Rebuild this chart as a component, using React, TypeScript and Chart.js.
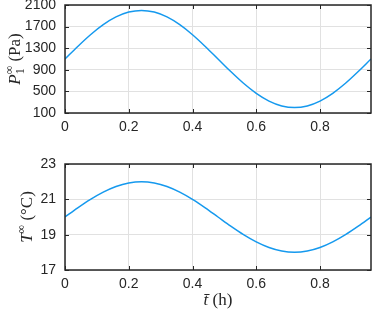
import React, { useEffect, useRef } from 'react';
import { Chart, registerables } from 'chart.js';

Chart.register(...registerables);

// ---- data ----
const timeH = [0, 0.04, 0.08, 0.12, 0.16, 0.2, 0.24, 0.28, 0.32, 0.36, 0.4, 0.44, 0.48, 0.52, 0.56, 0.6, 0.64, 0.68, 0.72, 0.76, 0.8, 0.84, 0.88, 0.92, 0.96];
const pressurePa = [1100, 1333, 1550, 1736, 1879, 1969, 2000, 1969, 1879, 1736, 1550, 1333, 1100, 867, 650, 464, 321, 231, 200, 231, 321, 464, 650, 867, 1100];
const temperatureC = [20, 20.52, 21, 21.41, 21.73, 21.93, 22, 21.93, 21.73, 21.41, 21, 20.52, 20, 19.48, 19, 18.59, 18.27, 18.07, 18, 18.07, 18.27, 18.59, 19, 19.48, 20];
const xTicks = [0, 0.2, 0.4, 0.6, 0.8];
const pressureTicks = [100, 500, 900, 1300, 1700, 2100];
const temperatureTicks = [17, 19, 21, 23];
const xMax = 0.96;

const LINE_COLOR = '#1599ee';
const TEXT_COLOR = '#262626';
const GRID_COLOR = '#e1e1e1';
const TICK_FONT = "'Liberation Sans', Arial, sans-serif";
const SERIF = "'Liberation Serif', 'DejaVu Serif', serif";

type Seg = { t: string; font: string; dy?: number; stack?: boolean };

function drawRich(ctx: CanvasRenderingContext2D, segs: Seg[], cx: number, cy: number, rotate: boolean) {
  ctx.save();
  ctx.translate(cx, cy);
  if (rotate) ctx.rotate(-Math.PI / 2);
  const layout: { s: Seg; x: number }[] = [];
  let x = 0;
  let prevStart = 0;
  let prevW = 0;
  segs.forEach((s) => {
    ctx.font = s.font;
    const w = ctx.measureText(s.t).width;
    if (s.stack) {
      layout.push({ s, x: prevStart });
      prevW = Math.max(prevW, w);
      x = prevStart + prevW;
    } else {
      layout.push({ s, x });
      prevStart = x;
      prevW = w;
      x += w;
    }
  });
  const total = x;
  ctx.fillStyle = TEXT_COLOR;
  ctx.textBaseline = 'alphabetic';
  ctx.textAlign = 'left';
  layout.forEach(({ s, x: sx }) => {
    ctx.font = s.font;
    ctx.fillText(s.t, sx - total / 2, s.dy || 0);
  });
  ctx.restore();
}

const framePlugin = {
  id: 'matlabFrame',
  afterDraw(chart: any) {
    const { ctx, chartArea: a, scales } = chart;
    const tl = 4;
    ctx.save();
    ctx.strokeStyle = TEXT_COLOR;
    ctx.lineWidth = 1;
    ctx.beginPath();
    scales.x.ticks.forEach((t: any) => {
      const px = Math.round(scales.x.getPixelForValue(t.value)) + 0.5;
      ctx.moveTo(px, a.bottom);
      ctx.lineTo(px, a.bottom - tl);
      ctx.moveTo(px, a.top);
      ctx.lineTo(px, a.top + tl);
    });
    scales.y.ticks.forEach((t: any) => {
      const py = Math.round(scales.y.getPixelForValue(t.value)) + 0.5;
      ctx.moveTo(a.left, py);
      ctx.lineTo(a.left + tl, py);
      ctx.moveTo(a.right, py);
      ctx.lineTo(a.right - tl, py);
    });
    ctx.stroke();
    ctx.lineWidth = 1.5;
    ctx.strokeRect(a.left, a.top, a.right - a.left, a.bottom - a.top);
    ctx.restore();
  },
};

function zeroPad(s: any) {
  s.paddingTop = 0;
  s.paddingBottom = 0;
  s.paddingLeft = 0;
  s.paddingRight = 0;
}

function makeConfig(
  values: number[],
  yMin: number,
  yMax: number,
  yTicks: number[],
  padTop: number,
  xAxisHeight: number,
  drawTitles: (ctx: CanvasRenderingContext2D, chart: any) => void
): any {
  return {
    type: 'line',
    data: {
      datasets: [
        {
          data: timeH.map((t, i) => ({ x: t, y: values[i] })),
          borderColor: LINE_COLOR,
          borderWidth: 1.5,
          pointRadius: 0,
          fill: false,
          cubicInterpolationMode: 'monotone',
        },
      ],
    },
    options: {
      animation: false,
      responsive: false,
      layout: { padding: { top: padTop, right: 3, left: 0, bottom: 0 } },
      plugins: { legend: { display: false }, tooltip: { enabled: false } },
      scales: {
        x: {
          type: 'linear',
          min: 0,
          max: xMax,
          afterBuildTicks: (s: any) => {
            s.ticks = xTicks.map((v) => ({ value: v }));
          },
          afterFit: (s: any) => {
            s.height = xAxisHeight;
            zeroPad(s);
          },
          grid: { color: GRID_COLOR, lineWidth: 1, drawTicks: false },
          border: { display: false },
          ticks: {
            autoSkip: false,
            padding: 6,
            color: TEXT_COLOR,
            font: { family: TICK_FONT, size: 14 },
            maxRotation: 0,
            callback: (v: any) => String(v),
          },
        },
        y: {
          type: 'linear',
          min: yMin,
          max: yMax,
          afterBuildTicks: (s: any) => {
            s.ticks = yTicks.map((v) => ({ value: v }));
          },
          afterFit: (s: any) => {
            s.width = 65;
            zeroPad(s);
          },
          grid: { color: GRID_COLOR, lineWidth: 1, drawTicks: false },
          border: { display: false },
          ticks: {
            autoSkip: false,
            padding: 9,
            color: TEXT_COLOR,
            font: { family: TICK_FONT, size: 14 },
            callback: (v: any) => String(v),
          },
        },
      },
    },
    plugins: [
      framePlugin,
      {
        id: 'richTitles',
        afterDraw(chart: any) {
          drawTitles(chart.ctx, chart);
        },
      },
    ],
  };
}

export default function App() {
  const topRef = useRef<HTMLCanvasElement>(null);
  const botRef = useRef<HTMLCanvasElement>(null);

  useEffect(() => {
    const big = `17px ${SERIF}`;
    const bigIt = `italic 17px ${SERIF}`;
    const small = `12px ${SERIF}`;
    const top = new Chart(
      topRef.current as HTMLCanvasElement,
      makeConfig(pressurePa, 100, 2100, pressureTicks, 5, 32, (ctx, chart) => {
        const a = chart.chartArea;
        drawRich(
          ctx,
          [
            { t: 'P', font: bigIt },
            { t: '\u221E', font: small, dy: -7 },
            { t: '1', font: small, dy: 4, stack: true },
            { t: ' (Pa)', font: big },
          ],
          20,
          (a.top + a.bottom) / 2,
          true
        );
      })
    );
    const bot = new Chart(
      botRef.current as HTMLCanvasElement,
      makeConfig(temperatureC, 17, 23, temperatureTicks, 19, 45, (ctx, chart) => {
        const a = chart.chartArea;
        drawRich(
          ctx,
          [
            { t: 'T', font: bigIt },
            { t: '\u221E', font: small, dy: -7 },
            { t: ' (\u00B0C)', font: big },
          ],
          32,
          (a.top + a.bottom) / 2,
          true
        );
        drawRich(
          ctx,
          [
            { t: 't\u0304', font: bigIt },
            { t: ' (h)', font: big },
          ],
          (a.left + a.right) / 2,
          160,
          false
        );
      })
    );
    return () => {
      top.destroy();
      bot.destroy();
    };
  }, []);

  return (
    <div style={{ position: 'absolute', left: 0, top: 0, width: 374, height: 315, background: '#fff' }}>
      <canvas ref={topRef} width={374} height={145} style={{ display: 'block', position: 'absolute', left: 0, top: 0 }} />
      <canvas ref={botRef} width={374} height={170} style={{ display: 'block', position: 'absolute', left: 0, top: 145 }} />
    </div>
  );
}
